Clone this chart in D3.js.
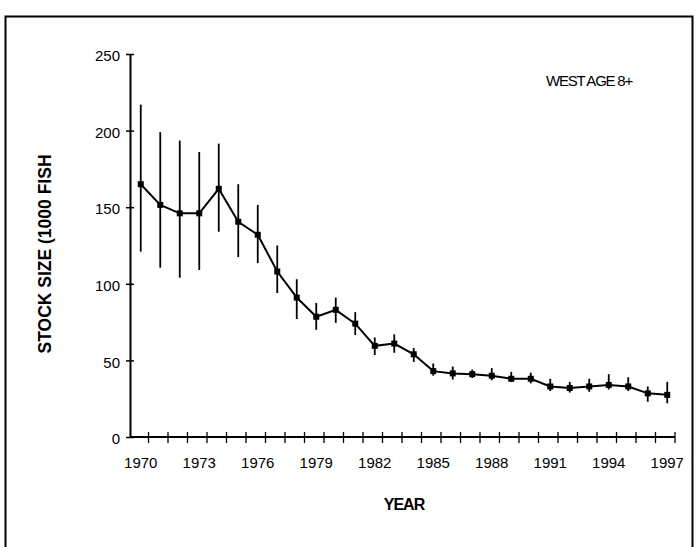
<!DOCTYPE html>
<html>
<head>
<meta charset="utf-8">
<script src="https://cdn.jsdelivr.net/npm/d3@7"></script>
<style>
  html, body { margin: 0; padding: 0; background: #fff; }
  svg { display: block; }
  text { font-family: "Liberation Sans", Arial, sans-serif; fill: #000; }
</style>
</head>
<body>
<svg id="chart" width="697" height="547"></svg>
<script>
const years = d3.range(1970, 1998);
const stock = [165, 151.5, 146, 146, 162, 140.5, 132, 108, 91, 78.5, 83, 74, 59.5, 61, 54, 43, 41.5, 41, 40, 38, 38, 33, 32, 33, 34, 33, 28.5, 27.5];
const upper = [217, 199, 193.5, 186, 191.5, 165, 151.5, 125, 103, 87.5, 91, 81.5, 65, 67, 58, 48, 46, 44, 45, 42.5, 42, 38, 36, 38, 41, 39, 33, 36];
const lower = [121, 110.5, 104, 109, 134, 117.5, 113.5, 94, 77, 70, 74.5, 66.5, 53.5, 55, 49, 40, 37.5, 38.5, 37, 36, 35, 30, 29, 29.5, 31, 30, 23, 22];
const yTicks = [0, 50, 100, 150, 200, 250];
const xLabelYears = [1970, 1973, 1976, 1979, 1982, 1985, 1988, 1991, 1994, 1997];

const svg = d3.select("#chart");

// outer frame
svg.append("path")
  .attr("d", "M5.5,547 V16.5 H692.5 V547")
  .attr("fill", "none").attr("stroke", "#000").attr("stroke-width", 2);

const x = d3.scaleBand().domain(years).range([131, 677]).padding(0);
const y = d3.scaleLinear().domain([0, 250]).range([437, 54]);
const xc = d => x(d) + x.bandwidth() / 2;

// y axis
const yAxis = d3.axisLeft(y).tickValues(yTicks).tickSize(4).tickPadding(6).tickSizeOuter(0);
const gy = svg.append("g").attr("transform", "translate(130,0)").call(yAxis);
gy.select(".domain").attr("stroke-width", 2);
gy.selectAll(".tick line").attr("x2", 4).attr("x1", -4).attr("stroke-width", 1.5);
gy.selectAll(".tick text").attr("font-size", 15).attr("font-family", "Liberation Sans, Arial, sans-serif").attr("dy", "0.45em");

// x axis (labels)
const xAxis = d3.axisBottom(x).tickValues(xLabelYears).tickSize(0).tickPadding(20).tickFormat(d3.format("d"));
const gx = svg.append("g").attr("transform", "translate(0,437)").call(xAxis);
gx.select(".domain").remove();
gx.selectAll(".tick text").attr("font-size", 15).attr("font-family", "Liberation Sans, Arial, sans-serif");

// x axis line and boundary ticks
svg.append("line").attr("x1", 130).attr("x2", x.range()[1] - 2)
  .attr("y1", 437).attr("y2", 437).attr("stroke", "#000").attr("stroke-width", 2);
const bounds = years.map(d => x(d)).concat([x.range()[1]]).slice(1);
svg.append("g").selectAll("line").data(bounds).join("line")
  .attr("x1", d => d - 2).attr("x2", d => d - 2)
  .attr("y1", 432).attr("y2", 443)
  .attr("stroke", "#000").attr("stroke-width", 1.3);

// error bars
svg.append("g").selectAll("line").data(years).join("line")
  .attr("x1", d => xc(d)).attr("x2", d => xc(d))
  .attr("y1", (d, i) => y(upper[i])).attr("y2", (d, i) => y(lower[i]))
  .attr("stroke", "#000").attr("stroke-width", 1.8);

// line
const line = d3.line().x(d => xc(d)).y((d, i) => y(stock[i]));
svg.append("path").datum(years).attr("d", line)
  .attr("fill", "none").attr("stroke", "#000").attr("stroke-width", 2);

// markers
svg.append("g").selectAll("rect").data(years).join("rect")
  .attr("x", d => xc(d) - 3).attr("y", (d, i) => y(stock[i]) - 3)
  .attr("width", 6).attr("height", 6).attr("fill", "#000");

// titles
svg.append("text").attr("x", 404).attr("y", 510).attr("text-anchor", "middle")
  .attr("font-size", 16).attr("font-weight", "bold").attr("letter-spacing", -1).text("YEAR");
svg.append("text").attr("transform", "translate(51,254) rotate(-90)").attr("text-anchor", "middle")
  .attr("font-size", 17.5).attr("font-weight", "bold").text("STOCK SIZE (1000 FISH");
svg.append("text").attr("x", 589).attr("y", 86).attr("text-anchor", "middle")
  .attr("font-size", 15).attr("letter-spacing", -1.2).text("WEST AGE 8+");
</script>
</body>
</html>
